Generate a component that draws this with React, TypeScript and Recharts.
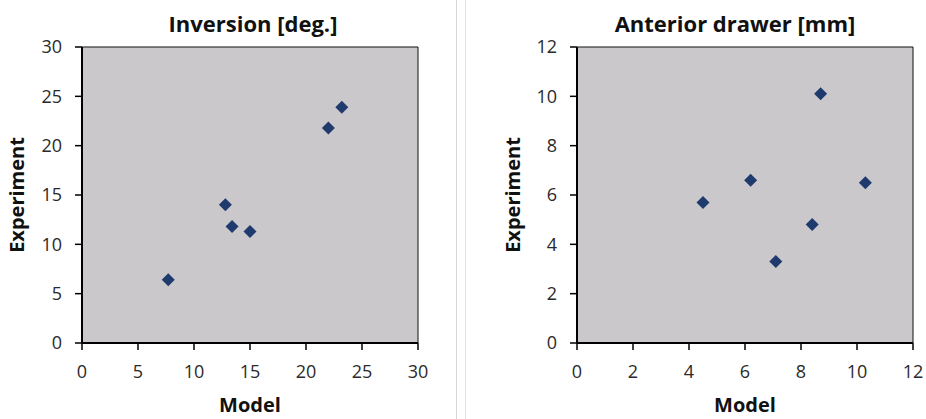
import React from "react";
import { ScatterChart, Scatter, XAxis, YAxis, ReferenceArea } from "recharts";

const inversionModel = [7.7, 12.8, 13.4, 15.0, 22.0, 23.2];
const inversionExperiment = [6.4, 14.0, 11.8, 11.3, 21.8, 23.9];
const inversionTicks = [0, 5, 10, 15, 20, 25, 30];

const drawerModel = [4.5, 6.2, 7.1, 8.4, 8.7, 10.3];
const drawerExperiment = [5.7, 6.6, 3.3, 4.8, 10.1, 6.5];
const drawerTicks = [0, 2, 4, 6, 8, 10, 12];

const FONT = "'Open Sans', 'Liberation Sans', sans-serif";
const PLOT_BG = "#CBC8CC";
const MARKER = "#1F3B6E";

const toPoints = (xs: number[], ys: number[]) => xs.map((x, i) => ({ x, y: ys[i] }));

const Diamond = (props: any) => {
  const { cx, cy } = props;
  if (cx == null || cy == null) return null;
  const r = 6.5;
  return (
    <polygon
      points={`${cx},${cy - r} ${cx + r},${cy} ${cx},${cy + r} ${cx - r},${cy}`}
      fill={MARKER}
    />
  );
};

const tickStyle = { fontSize: 18, fill: "#2a2a2a", fontFamily: FONT };

function Panel(props: {
  left: number;
  width: number;
  yAxisWidth: number;
  marginRight: number;
  title: string;
  titleCenter: number;
  expX: number;
  xs: number[];
  ys: number[];
  ticks: number[];
}) {
  const { left, width, yAxisWidth, marginRight, title, titleCenter, expX, xs, ys, ticks } = props;
  const max = ticks[ticks.length - 1];
  const plotLeft = yAxisWidth;
  const plotRight = width - marginRight;
  const plotCenter = (plotLeft + plotRight) / 2;
  return (
    <div style={{ position: "absolute", left, top: 0, width, height: 419 }}>
      <ScatterChart
        width={width}
        height={419}
        margin={{ top: 47, right: marginRight, bottom: 46, left: 0 }}
      >
        <ReferenceArea
          x1={0}
          x2={max}
          y1={0}
          y2={max}
          fill={PLOT_BG}
          fillOpacity={1}
          stroke="#111"
          strokeWidth={1}
        />
        <XAxis
          type="number"
          dataKey="x"
          domain={[0, max]}
          ticks={ticks}
          height={30}
          axisLine={{ stroke: "#000", strokeWidth: 2 }}
          tickLine={{ stroke: "#000", strokeWidth: 1.5 }}
          tickSize={7}
          tickMargin={15}
          tick={tickStyle}
          interval={0}
        />
        <YAxis
          type="number"
          dataKey="y"
          domain={[0, max]}
          ticks={ticks}
          width={yAxisWidth}
          axisLine={{ stroke: "#000", strokeWidth: 2 }}
          tickLine={{ stroke: "#000", strokeWidth: 1.5 }}
          tickSize={7}
          tickMargin={13}
          tick={tickStyle}
          interval={0}
        />
        <Scatter data={toPoints(xs, ys)} shape={<Diamond />} isAnimationActive={false} />
      </ScatterChart>
      <div
        style={{
          position: "absolute",
          left: titleCenter - 150,
          width: 300,
          top: 9,
          textAlign: "center",
          fontFamily: FONT,
          fontWeight: 700,
          fontSize: 22,
          color: "#111",
          lineHeight: "28px",
          whiteSpace: "nowrap",
        }}
      >
        {title}
      </div>
      <div
        style={{
          position: "absolute",
          left: plotCenter - 100,
          width: 200,
          top: 391,
          textAlign: "center",
          fontFamily: FONT,
          fontWeight: 700,
          fontSize: 20,
          color: "#111",
          lineHeight: "28px",
        }}
      >
        Model
      </div>
      <div
        style={{
          position: "absolute",
          left: expX - 100,
          top: 195 - 14,
          width: 200,
          height: 28,
          lineHeight: "28px",
          textAlign: "center",
          fontFamily: FONT,
          fontWeight: 700,
          fontSize: 20,
          color: "#111",
          transform: "rotate(-90deg)",
          transformOrigin: "100px 14px",
        }}
      >
        Experiment
      </div>
    </div>
  );
}

export default function App() {
  return (
    <div
      style={{
        position: "fixed",
        left: 0,
        top: 0,
        width: 926,
        height: 419,
        background: "#fff",
        overflow: "hidden",
      }}
    >
      <Panel
        left={0}
        width={457}
        yAxisWidth={82}
        marginRight={39}
        title="Inversion [deg.]"
        titleCenter={253}
        expX={17}
        xs={inversionModel}
        ys={inversionExperiment}
        ticks={inversionTicks}
      />
      <div style={{ position: "absolute", left: 456, top: 0, width: 1, height: 419, background: "#d6d6d6" }} />
      <div style={{ position: "absolute", left: 465, top: 0, width: 1, height: 419, background: "#e2e2e2" }} />
      <Panel
        left={463}
        width={463}
        yAxisWidth={114}
        marginRight={13}
        title="Anterior drawer [mm]"
        titleCenter={272}
        expX={50}
        xs={drawerModel}
        ys={drawerExperiment}
        ticks={drawerTicks}
      />
    </div>
  );
}
